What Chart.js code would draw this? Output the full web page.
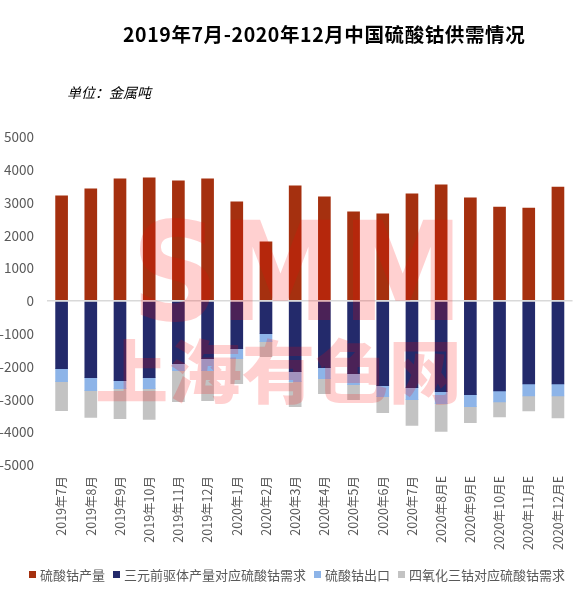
<!DOCTYPE html>
<html>
<head>
<meta charset="utf-8">
<script src="https://cdn.jsdelivr.net/npm/chart.js@4.4.1/dist/chart.umd.min.js"></script>
<style>
  html, body { margin: 0; padding: 0; background: #fff; }
  #wrap { position: relative; width: 584px; height: 591px; overflow: hidden; }
  #title { position: absolute; left: 123px; top: 19px; font: bold 19.5px "Noto Sans CJK SC", sans-serif; color: #000; white-space: nowrap; letter-spacing: 0.6px; }
  #unit { position: absolute; left: 67px; top: 82px; font: italic 14px "Noto Sans CJK SC", sans-serif; color: #000; white-space: nowrap; }
  #legend { position: absolute; left: 29px; top: 565px; display: flex; align-items: center; font: 13px "Noto Sans CJK SC", sans-serif; color: #595959; white-space: nowrap; }
  #legend .it { display: flex; align-items: center; margin-right: 8px; }
  #legend .sw { width: 7px; height: 7px; margin-right: 4px; }
  canvas { position: absolute; left: 0; top: 0; }
</style>
</head>
<body>
<div id="wrap">
  <canvas id="c" width="584" height="591"></canvas>
  <div id="title">2019年7月-2020年12月中国硫酸钴供需情况</div>
  <div id="unit">单位：金属吨</div>
  <div id="legend"></div>
</div>
<script>
const categories = ["2019年7月","2019年8月","2019年9月","2019年10月","2019年11月","2019年12月","2020年1月","2020年2月","2020年3月","2020年4月","2020年5月","2020年6月","2020年7月","2020年8月E","2020年9月E","2020年10月E","2020年11月E","2020年12月E"];
const seriesNames = ["硫酸钴产量","三元前驱体产量对应硫酸钴需求","硫酸钴出口","四氧化三钴对应硫酸钴需求"];
const production = [3210, 3420, 3726, 3756, 3665, 3726, 3025, 1807, 3513, 3178, 2721, 2660, 3269, 3543, 3147, 2866, 2835, 3475];
const precursorDemand = [-2060, -2335, -2426, -2335, -1909, -1756, -1452, -995, -2152, -2030, -2213, -2579, -2640, -2761, -2853, -2744, -2530, -2530];
const exports = [-397, -396, -244, -335, -213, -365, -304, -244, -305, -335, -335, -335, -365, -366, -365, -335, -366, -366];
const tricobaltDemand = [-883, -822, -914, -944, -944, -916, -762, -456, -761, -457, -457, -487, -792, -853, -488, -458, -457, -671];
const yTicks = [-5000, -4000, -3000, -2000, -1000, 0, 1000, 2000, 3000, 4000, 5000];

const colors = ["#a5300f", "#232a6b", "#8db4e8", "#c3c3c3"];
const seriesData = [production, precursorDemand, exports, tricobaltDemand];

// HTML legend
const lg = document.getElementById('legend');
seriesNames.forEach((n, i) => {
  const it = document.createElement('div'); it.className = 'it';
  const sw = document.createElement('div'); sw.className = 'sw'; sw.style.background = colors[i];
  const tx = document.createElement('span'); tx.textContent = n;
  it.appendChild(sw); it.appendChild(tx); lg.appendChild(it);
});

function fitText(ctx, text, font, x0, y0, x1, y1) {
  ctx.save();
  ctx.font = font;
  ctx.textBaseline = 'alphabetic';
  ctx.textAlign = 'left';
  const m = ctx.measureText(text);
  const w = m.actualBoundingBoxLeft + m.actualBoundingBoxRight;
  const h = m.actualBoundingBoxAscent + m.actualBoundingBoxDescent;
  const sx = (x1 - x0) / w, sy = (y1 - y0) / h;
  ctx.translate(x0, y0);
  ctx.scale(sx, sy);
  ctx.fillText(text, m.actualBoundingBoxLeft, m.actualBoundingBoxAscent);
  ctx.restore();
}

const watermark = {
  id: 'watermark',
  afterDraw(chart) {
    const ctx = chart.ctx;
    ctx.save();
    ctx.fillStyle = 'rgba(255,0,0,0.185)';
    fitText(ctx, 'SMM', 'bold 140px "DejaVu Sans", sans-serif', 140, 217, 453, 322);
    fitText(ctx, '上海有色网', '900 76px "Noto Sans CJK SC", sans-serif', 97, 337, 457, 405);
    ctx.restore();
  }
};

new Chart(document.getElementById('c'), {
  type: 'bar',
  data: {
    labels: categories,
    datasets: seriesNames.map((n, i) => ({
      label: n,
      data: seriesData[i],
      backgroundColor: colors[i],
      borderWidth: 0,
      barThickness: 12,
      stack: 's'
    }))
  },
  options: {
    responsive: false,
    animation: false,
    devicePixelRatio: 1,
    layout: { padding: { top: 137, right: 2, bottom: 0, left: 0 } },
    plugins: { legend: { display: false }, title: { display: false }, tooltip: { enabled: false } },
    scales: {
      x: {
        stacked: true,
        grid: { display: false, drawTicks: false },
        border: { display: false },
        ticks: {
          autoSkip: false, maxRotation: 90, minRotation: 90, padding: 11,
          color: '#595959', font: { family: '"Noto Sans CJK SC", sans-serif', size: 12.5 }
        },
        afterFit(s) { s.height = 126; }
      },
      y: {
        stacked: true,
        min: -5000, max: 5000,
        afterBuildTicks(s) { s.ticks = yTicks.map(v => ({ value: v })); },
        grid: {
          drawTicks: false, z: 1, lineWidth: 1.5,
          color: c => (c.tick && c.tick.value === 0) ? '#d9d9d9' : 'rgba(0,0,0,0)'
        },
        border: { display: false },
        ticks: {
          padding: 13, color: '#595959',
          font: { family: '"Noto Sans CJK SC", sans-serif', size: 13.5 },
          callback: v => String(v)
        },
        afterFit(s) { s.width = 47; }
      }
    }
  },
  plugins: [watermark]
});
</script>
</body>
</html>
